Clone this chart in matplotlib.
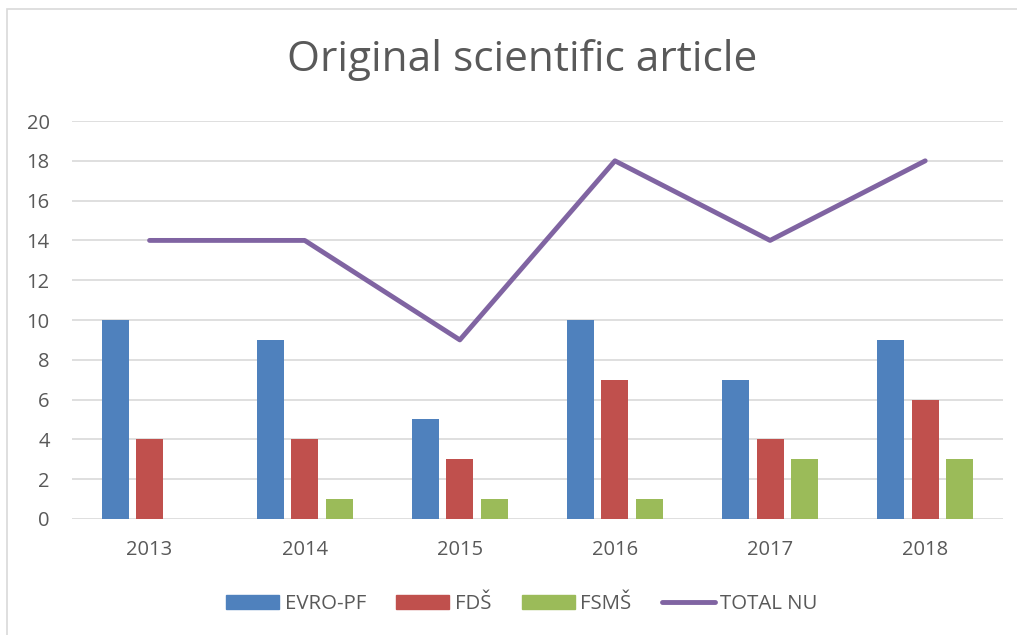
import numpy as np
import matplotlib
matplotlib.use("Agg")
import matplotlib.pyplot as plt
from matplotlib.patches import Rectangle
from matplotlib.lines import Line2D

years = ["2013", "2014", "2015", "2016", "2017", "2018"]
evro_pf = [10, 9, 5, 10, 7, 9]
fds = [4, 4, 3, 7, 4, 6]
fsms = [0, 1, 1, 1, 3, 3]
total_nu = [14, 14, 9, 18, 14, 18]

series_names = ["EVRO-PF", "FDŠ", "FSMŠ", "TOTAL NU"]
colors = ["#4F81BD", "#C0504D", "#9BBB59", "#8064A2"]
text_color = "#595959"

plt.rcParams['font.family'] = ['Open Sans', 'DejaVu Sans']

fig = plt.figure(figsize=(10.17, 6.35), dpi=100)
ax = fig.add_axes([0.0708, 0.1827, 0.9152, 0.6267])

# chart frame
fig.patches.append(Rectangle((7 / 1017, -0.1), 1.1, 1 - 9 / 635 + 0.1,
                             transform=fig.transFigure, fill=False,
                             edgecolor="#D9D9D9", linewidth=1.2))

x = np.arange(len(years))
w = 0.174
step = 0.222
ax.bar(x - step, evro_pf, w, color=colors[0], zorder=3)
ax.bar(x, fds, w, color=colors[1], zorder=3)
ax.bar(x + step, fsms, w, color=colors[2], zorder=3)
ax.plot(x, total_nu, color=colors[3], linewidth=3.5, solid_capstyle="round",
        solid_joinstyle="round", zorder=4)

ax.set_xlim(-0.5, len(years) - 0.5)
ax.set_ylim(0, 20)
ax.set_yticks(range(0, 21, 2))
ax.set_xticks(x)
ax.set_xticklabels(years)
ax.grid(axis="y", color="#D9D9D9", linewidth=1.2, zorder=0)
for s in ax.spines.values():
    s.set_visible(False)
ax.tick_params(axis="both", length=0, labelsize=14.5, colors=text_color)
ax.tick_params(axis="y", pad=16)
ax.tick_params(axis="x", pad=15)

fig.text(0.513, 0.906, "Original scientific article", ha="center", va="center",
         fontsize=30.5, color=text_color)

handles = [Rectangle((0, 0), 1, 1, color=colors[0]),
           Rectangle((0, 0), 1, 1, color=colors[1]),
           Rectangle((0, 0), 1, 1, color=colors[2]),
           Line2D([0], [0], color=colors[3], linewidth=3.5, solid_capstyle="round")]
leg = fig.legend(handles, series_names, loc="center", bbox_to_anchor=(0.513, 0.049),
                 ncol=4, frameon=False, fontsize=14.7, handlelength=2.6, handleheight=0.67,
                 handletextpad=0.25, columnspacing=1.5)
for t in leg.get_texts():
    t.set_color(text_color)

fig.savefig("out.png", dpi=100)
